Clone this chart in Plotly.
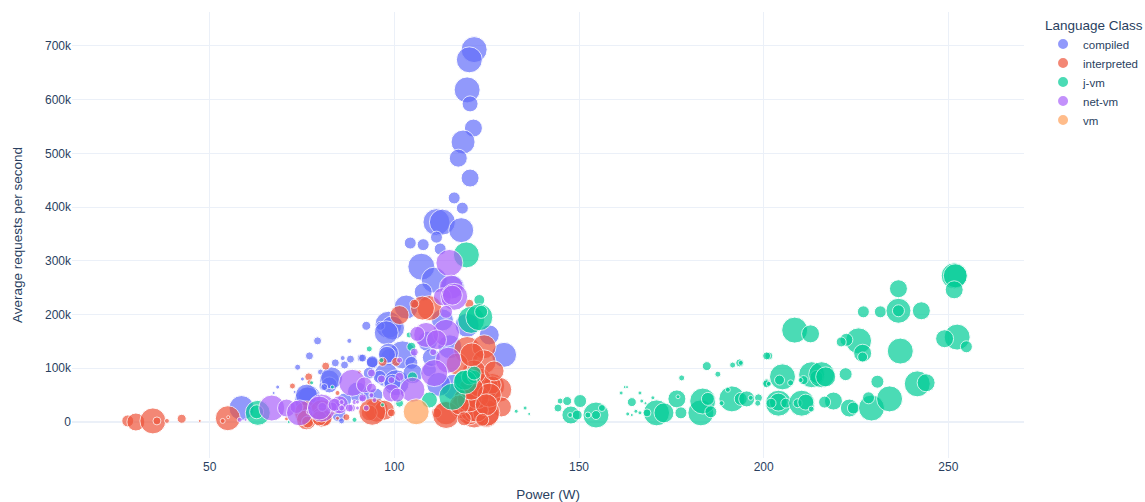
import plotly.graph_objects as go

# each row: power (W), average requests per second, bubble size
compiled = [
(121.6,693000,26),(120.3,674000,26),(119.7,618000,26),(120.5,592000,16),(121.4,547000,18),(118.6,521000,24),
(117.3,491000,18),(120.5,454000,18),(116.2,417000,12),(118.4,398000,12),(104.3,333000,12),(107.8,330000,12),
(111.4,372000,27),(113,372000,26),(118.1,357000,25),(111.4,344000,12),(112.4,322000,12),(107.3,289000,27),
(110.8,264000,26),(107.8,242000,18),(115.7,251000,24),(103.2,214000,24),(98.4,181000,27),(99.5,175000,24),
(92.4,179000,9),(96.2,179000,9),(97.8,166000,24),(129.7,125000,25),(125.7,162000,20),(102.2,125000,28),
(104.6,110000,13),(98.6,121000,17),(94,110000,11),(91,119000,8),(87.8,151000,5),(79.2,151000,8),(77,123000,8),
(73.8,102000,6),(84,110000,8),(86.5,106000,8),(88.1,117000,8),(86,119000,5),(82.4,78000,20),(80.8,67000,9),
(80,93000,6),(97.8,88000,24),(109.5,97000,14),(77,47000,22),(100.5,73000,26),(116.2,65000,26),(58.6,26000,25),
(68.4,65000,4),(67.3,54000,3),(75.1,80000,4),(76.5,41000,26),(73,56000,3),(82.4,69000,16),(90,56000,20),
(93.2,50000,12),(86.5,41000,14),(85,13000,14),(95,50000,14),(85.7,2000,6),(94,110000,12),(98.4,128000,20),
(119.7,180000,24),(113,190000,22),(109,150000,20),(115,140000,24),(105,90000,20),(112,70000,24),(110,120000,18),
(83,82000,22),(81,65000,7),(76.2,50000,22),(91.4,119000,8),(94,112000,12),(98,125000,17),(93.2,91000,12),
(96,84000,13),(99.5,73000,17),
]
interpreted = [
(27.8,2000,12),(30,0,18),(34.6,2000,26),(35.7,2000,8),(38.4,2000,5),(42.4,6000,9),(47.3,2000,3),(54.9,7000,25),
(53.5,2000,5),(55,9000,3),(81.4,104000,8),(76.8,84000,8),(77,74000,5),(72.4,67000,6),(70.8,6000,4),(76.2,17000,24),
(80.3,19000,24),(101.4,199000,19),(109.5,212000,25),(107.6,212000,24),(105.4,220000,9),(120.3,220000,9),
(119.7,134000,27),(124.3,140000,24),(124.3,112000,24),(126.5,67000,25),(128.4,60000,25),(129,28000,20),
(124.9,13000,25),(121.6,13000,26),(119.5,41000,26),(122.2,47000,24),(124.9,65000,24),(123,78000,24),(114,17000,24),
(111.4,17000,10),(120.3,17000,24),(118.4,28000,24),(96.8,112000,9),(100.5,112000,9),(95.1,22000,24),(97.3,22000,20),
(93.2,17000,16),(99.2,17000,8),(80.3,9000,20),(76.2,4000,20),(87,9000,7),(84.6,54000,5),(90.5,93000,4),(121,22000,24),
(125.7,35000,16),(126.5,69000,18),(124.9,17000,27),(122.2,22000,24),(114,13000,27),(122.4,47000,24),(120.3,41000,24),
(123,69000,24),(121.6,93000,24),(125.7,50000,24),(124.9,32000,22),(117.6,32000,20),(120.8,63000,24),(123.8,4000,13),
(118.9,6000,14),(94,19000,27),(81,7000,16),(76.5,0,12),(84.6,7000,4),(83.8,17000,3),(79.7,7000,15),(117,108000,22),
(121,125000,24),(127,95000,20),
]
j_vm = [
(63,17000,25),(62.7,19000,14),(77.6,73000,4),(83.2,65000,4),(71.4,0,3),(123,227000,11),(119.5,311000,26),(120.8,190000,27),
(123,195000,27),(123.5,205000,13),(93.2,136000,6),(104.6,140000,9),(104,162000,6),(96.5,115000,5),(89.2,4000,5),
(133,20000,4),(135.4,26000,4),(136.5,15000,3),(109.5,41000,16),(115.7,47000,27),(118.9,78000,20),(120.3,84000,16),
(121.6,84000,13),(104.9,84000,10),(101.4,35000,8),(96.8,32000,4),(119.2,74000,24),(121.6,91000,14),
(144.3,26000,8),(144.9,39000,6),(146.8,39000,9),(150.3,39000,13),(147.8,13000,18),(147.6,13000,5),(149.5,13000,10),
(154.6,13000,26),(154.6,13000,9),(152.4,13000,6),(156.2,26000,7),(161.4,54000,4),(162.4,65000,3),(163,65000,3),
(164.3,37000,9),(167,39000,4),(168,35000,3),(166.5,54000,4),(170,45000,4),(163.2,15000,4),(164.3,13000,3),(165.4,20000,4),
(166.5,17000,4),(171,17000,26),(173,17000,20),(168.4,17000,8),(176.5,43000,18),(176.8,47000,4),(177.6,17000,12),
(177.8,82000,6),(183,17000,26),(183.5,39000,26),(184.9,43000,13),(185.7,19000,12),(184.6,104000,9),(187.6,89000,6),
(191.6,106000,6),(193.5,110000,8),(193.8,110000,5),(191.4,43000,26),(193.8,43000,13),(195.4,43000,16),(190.3,60000,5),
(188.6,35000,5),(196.5,45000,5),(198.6,45000,8),(198.4,35000,6),(200.8,73000,8),(201.4,123000,8),(200.8,123000,8),
(208.4,171000,26),(212.7,164000,18),(205.1,84000,26),(204.3,78000,10),(207.3,73000,6),(200.8,71000,8),(201.4,71000,5),
(204,35000,26),(204,37000,18),(206,35000,10),(202,35000,10),(210.3,35000,26),(209.2,35000,9),(211.4,37000,16),
(212.9,24000,6),(213,88000,26),(214.3,84000,13),(215.7,88000,26),(216.8,84000,20),(210.8,78000,9),(210,78000,5),
(222.2,89000,13),(218.9,39000,18),(216.5,37000,12),(223.2,26000,18),(224.3,26000,12),(229.2,26000,26),(228.4,45000,12),
(234.1,43000,26),(230.8,75000,13),(241.6,71000,26),(244,73000,18),(237,132000,26),(225.7,151000,26),(222.4,153000,13),
(221,149000,10),(226.8,128000,18),(226.8,121000,10),(227,205000,12),(231.6,205000,12),(236.5,207000,25),(236.5,207000,12),
(242.7,207000,18),(236.5,248000,18),(251.6,272000,26),(251.9,272000,24),(251.6,246000,18),(252.4,158000,26),
(249,155000,18),(254.9,140000,12),
]
net_vm = [
(66.8,26000,26),(70.8,26000,18),(73.5,28000,13),(74.3,17000,26),(76.8,19000,5),(80.3,26000,28),(80.5,28000,9),(83.2,32000,5),
(85.1,28000,13),(58.1,4000,5),(59.7,4000,3),(114.9,296000,27),(115.4,251000,24),(113,233000,18),(116.2,233000,27),
(115.7,236000,20),(114,205000,13),(114,166000,27),(108.6,162000,25),(106.2,164000,15),(111.4,153000,20),(110.5,130000,7),
(114.6,115000,26),(110.8,91000,27),(105.4,130000,8),(101.4,115000,6),(93.8,91000,8),(88.6,73000,27),(91.9,69000,16),
(93.8,63000,10),(99.2,54000,18),(104.9,60000,25),(101.4,84000,9),(96.5,80000,8),(99.2,78000,7),(91.4,43000,7),(89.2,37000,5),
(92.4,26000,6),(88.4,26000,8),(85.1,32000,18),(83.2,28000,10),(79.7,26000,24),(94.6,41000,5),(90,37000,4),
(83.8,32000,13),(85.7,37000,5),(85.7,26000,6),(87.8,26000,8),(90,26000,4),(91.4,45000,8),(93.8,50000,5),(100.8,50000,14),
]
vm = [(105.9,19000,26)]

class_names = ["compiled", "interpreted", "j-vm", "net-vm", "vm"]
class_rows = [compiled, interpreted, j_vm, net_vm, vm]
class_colors = ["#636efa", "#EF553B", "#00cc96", "#ab63fa", "#FFA15A"]

y_ticks = [0, 100000, 200000, 300000, 400000, 500000, 600000, 700000]
y_tick_labels = ["0", "100k", "200k", "300k", "400k", "500k", "600k", "700k"]
x_ticks = [50, 100, 150, 200, 250]

font_name = "Liberation Sans"
ink = "#2a3f5f"
grid = "#EBF0F8"

fig = go.Figure()
for name, rows, color in zip(class_names, class_rows, class_colors):
    fig.add_trace(go.Scatter(
        x=[r[0] for r in rows],
        y=[r[1] for r in rows],
        mode="markers",
        name=name,
        marker=dict(size=[r[2] for r in rows], sizemode="diameter", sizeref=1,
                    color=color, opacity=0.7, line=dict(color="white", width=1)),
    ))

fig.update_layout(
    width=1145, height=502,
    margin=dict(l=72, r=121, t=12, b=44, autoexpand=False),
    paper_bgcolor="white", plot_bgcolor="white",
    font=dict(family=font_name, color=ink, size=12),
    legend=dict(title=dict(text="Language Class", font=dict(size=13.5)), tracegroupgap=0,
                font=dict(size=11.5), itemsizing="constant", x=1.02, y=1, yanchor="top"),
    xaxis=dict(title=dict(text="Power (W)", font=dict(size=13.5), standoff=16), range=[12.7, 270.5], tickvals=x_ticks,
               gridcolor=grid, showline=False, zeroline=False, automargin=False),
    yaxis=dict(title=dict(text="Average requests per second", font=dict(size=13.5), standoff=19), range=[-67000, 763000],
               tickvals=y_ticks, ticktext=y_tick_labels,
               gridcolor=grid, zeroline=True, zerolinecolor=grid, zerolinewidth=2, automargin=False),
)

fig.write_html("out.html", config={"displayModeBar": False}, post_script="document.body.style.margin='0';")
